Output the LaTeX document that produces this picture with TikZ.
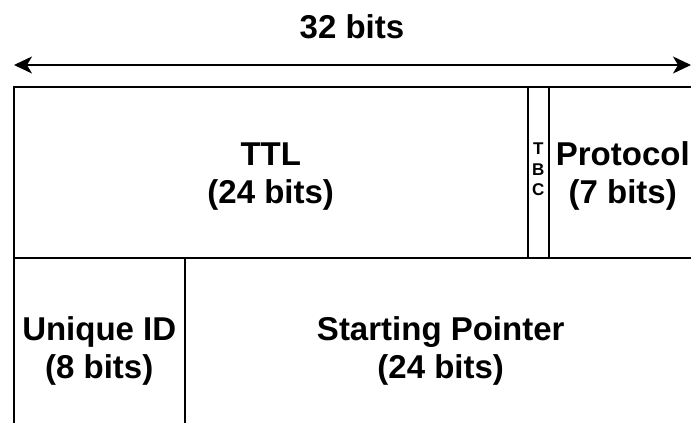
\documentclass[tikz,border=0pt]{standalone}
\usepackage{fontspec}
\setmainfont{Liberation Sans}
\usetikzlibrary{arrows.meta}
\newcommand{\lowerby}{\rule{0pt}{31pt}}
\tikzset{
  field/.style={draw, line width=1.5pt, inner sep=0pt, anchor=north west, align=center,
    font=\fontsize{33}{38}\selectfont\bfseries},
  smallfield/.style={field, font=\fontsize{17}{20.5}\selectfont\bfseries},
  dimarrow/.style={line width=1.5pt, {Stealth[length=18pt,width=17pt,inset=5pt]}-{Stealth[length=18pt,width=17pt,inset=5pt]}},
  title/.style={font=\fontsize{33}{38}\selectfont\bfseries, inner sep=0pt}
}
\begin{document}
\begin{tikzpicture}[x=1pt,y=1pt]
\useasboundingbox (0,0) rectangle (691,-423);
\clip (0,0) rectangle (691,-423);
\node[title] (w) at (352,-27) {32 bits};
\coordinate (al) at (14,-65);
\coordinate (ar) at (691,-65);
\draw[dimarrow] (al) -- (ar);
\node[field, minimum width=514pt, minimum height=171pt] (ttl) at (13,-86) {\lowerby TTL\\(24 bits)};
\node[smallfield, minimum width=21pt, minimum height=171pt] (tbc) at (527,-86) {T\\B\\C\rule[-6pt]{0pt}{0pt}};
\node[field, minimum width=148pt, minimum height=171pt] (proto) at (548,-86) {\lowerby Protocol\\(7 bits)};
\node[field, minimum width=171pt, minimum height=180pt] (uid) at (13,-257) {\lowerby Unique ID\\(8 bits)};
\node[field, minimum width=512pt, minimum height=180pt] (sp) at (184,-257) {\lowerby Starting Pointer\\(24 bits)};
\end{tikzpicture}
\end{document}
